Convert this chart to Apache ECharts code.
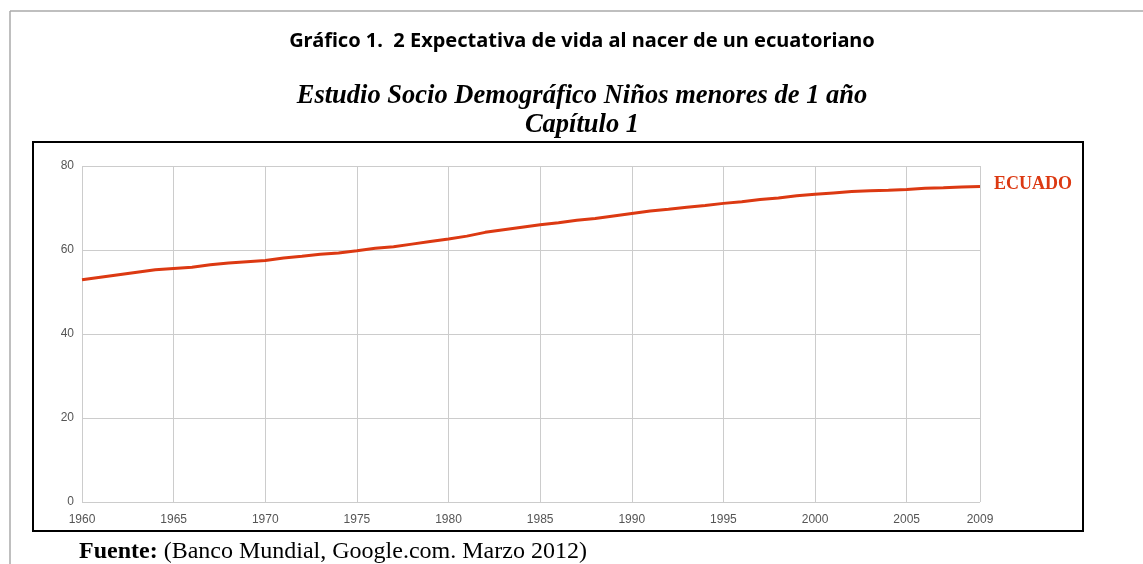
<!DOCTYPE html>
<html>
<head>
<meta charset="utf-8">
<title>Expectativa de vida al nacer - Ecuador</title>
<script src="https://cdn.jsdelivr.net/npm/echarts@6/dist/echarts.min.js"></script>
<style>
    html, body { margin: 0; padding: 0; background: #fff; }
    #life_chart { width: 1143px; height: 564px; }
</style>
</head>
<body>
<div id="life_chart"></div>
<script>
/* ------------------------------------------------------------------------------
 *
 *  # Expectativa de vida al nacer - Ecuador 1960-2009
 *
 * ---------------------------------------------------------------------------- */

// Data
var years = [];
for (var y = 1960; y <= 2009; y++) { years.push(String(y)); }

var ecuador = [
    52.9, 53.5, 54.1, 54.7, 55.3, 55.6, 55.9, 56.5, 56.9, 57.2,
    57.5, 58.1, 58.5, 59.0, 59.3, 59.8, 60.4, 60.8, 61.4, 62.0,
    62.6, 63.3, 64.2, 64.8, 65.4, 66.0, 66.5, 67.1, 67.5, 68.1,
    68.7, 69.3, 69.7, 70.2, 70.6, 71.1, 71.5, 72.0, 72.4, 72.9,
    73.3, 73.6, 73.9, 74.1, 74.2, 74.4, 74.7, 74.8, 75.0, 75.1
];

var yTicks = [0, 20, 40, 60, 80];

var seriesName = 'ECUADO';

// Show a label / gridline every 5 years and at the last year
var everyFive = function(index) {
    return index % 5 === 0 || index === years.length - 1;
};

var serif = '"Liberation Serif", "Times New Roman", serif';

document.addEventListener('DOMContentLoaded', function() {
    if (typeof echarts == 'undefined') {
        console.warn('Warning - echarts.min.js is not loaded.');
        return;
    }

    var chart_element = document.getElementById('life_chart');
    var chart = echarts.init(chart_element);

    chart.setOption({
        animation: false,

        textStyle: {
            fontFamily: '"Liberation Sans", Arial, sans-serif'
        },

        // Source note
        title: [{
            text: '{b|Fuente:} (Banco Mundial, Google.com. Marzo 2012)',
            left: 74,
            top: 535,
            textStyle: {
                fontFamily: serif,
                fontSize: 24,
                fontWeight: 'normal',
                color: '#000',
                rich: {
                    b: {
                        fontFamily: serif,
                        fontSize: 24,
                        fontWeight: 'bold',
                        color: '#000'
                    }
                }
            }
        }],

        // Page frames and headings
        graphic: [{
            type: 'line',
            shape: { x1: 10, y1: 11, x2: 1143, y2: 11 },
            style: { stroke: '#aaa', lineWidth: 1.5 },
            silent: true
        }, {
            type: 'line',
            shape: { x1: 10, y1: 11, x2: 10, y2: 564 },
            style: { stroke: '#aaa', lineWidth: 1.5 },
            silent: true
        }, {
            type: 'rect',
            shape: { x: 33, y: 142, width: 1050, height: 389 },
            style: { fill: 'transparent', stroke: '#000', lineWidth: 2 },
            silent: true
        }, {
            type: 'text',
            x: 582,
            y: 41,
            style: {
                text: 'Gráfico 1.  2 Expectativa de vida al nacer de un ecuatoriano',
                align: 'center',
                verticalAlign: 'middle',
                font: 'bold 20px "Noto Sans", sans-serif',
                fill: '#000'
            },
            silent: true
        }, {
            type: 'text',
            x: 582,
            y: 96,
            style: {
                text: 'Estudio Socio Demográfico Niños menores de 1 año',
                align: 'center',
                verticalAlign: 'middle',
                font: 'italic bold 26.5px ' + serif,
                fill: '#000'
            },
            silent: true
        }, {
            type: 'text',
            x: 582,
            y: 125,
            style: {
                text: 'Capítulo 1',
                align: 'center',
                verticalAlign: 'middle',
                font: 'italic bold 26.5px ' + serif,
                fill: '#000'
            },
            silent: true
        }],

        grid: {
            left: 82,
            right: 163,
            top: 166,
            bottom: 62,
            containLabel: false
        },

        xAxis: {
            type: 'category',
            boundaryGap: false,
            data: years,
            axisLine: { show: false },
            axisTick: { show: false },
            axisLabel: {
                interval: everyFive,
                color: '#555',
                fontSize: 12,
                margin: 12
            },
            splitLine: {
                show: true,
                interval: everyFive,
                lineStyle: { color: '#ccc', width: 1 }
            }
        },

        yAxis: {
            type: 'value',
            min: yTicks[0],
            max: yTicks[yTicks.length - 1],
            interval: 20,
            axisLine: { show: false },
            axisTick: { show: false },
            axisLabel: {
                color: '#555',
                fontSize: 12,
                margin: 8
            },
            splitLine: {
                lineStyle: { color: '#ccc', width: 1 }
            }
        },

        series: [{
            name: seriesName,
            type: 'line',
            data: ecuador,
            showSymbol: false,
            lineStyle: { color: '#dc3912', width: 3 },
            itemStyle: { color: '#dc3912' },
            endLabel: {
                show: true,
                formatter: seriesName,
                distance: 14,
                offset: [0, -2],
                color: '#dc3912',
                fontFamily: serif,
                fontWeight: 'bold',
                fontSize: 18
            }
        }]
    });
});
</script>
</body>
</html>
